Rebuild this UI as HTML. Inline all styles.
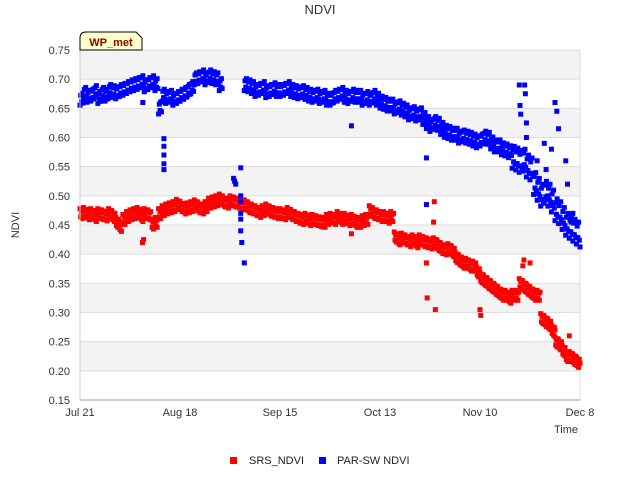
<!DOCTYPE html>
<html><head><meta charset="utf-8">
<style>
body{margin:0;background:#fff;font-family:"Liberation Sans",sans-serif;}
svg text{font-family:"Liberation Sans",sans-serif;}
</style></head>
<body>
<svg id="chart" width="640" height="480" viewBox="0 0 640 480">
<text x="320" y="14" text-anchor="middle" font-size="13" fill="#333">NDVI</text>
<g id="bands"></g>
<g id="grid"></g>
<g id="yticks"></g>
<g id="xticks"></g>
<g id="marks"></g>
<line x1="80" y1="400" x2="580" y2="400" stroke="#999"/>
<line x1="80" y1="50" x2="80" y2="400" stroke="#ccc"/>
<text x="19" y="225" transform="rotate(-90 19 225)" text-anchor="middle" font-size="11" fill="#333">NDVI</text>
<text x="578" y="433" text-anchor="end" font-size="11" fill="#333">Time</text>
<g>
<path d="M80,50 L80,38 Q80,32 86,32 L136,32 L142,38 L142,50 Z" fill="#ffffc8" stroke="#000"/>
<text x="111" y="46" text-anchor="middle" font-size="11" font-weight="bold" fill="#8b0000">WP_met</text>
</g>
<g>
<g><rect x="230" y="457" width="7" height="7" fill="#f00"/><text x="249" y="464" font-size="11" fill="#222">SRS_NDVI</text></g>
<g><rect x="319" y="457" width="7" height="7" fill="#00f"/><text x="337" y="464" font-size="11" fill="#222">PAR-SW NDVI</text></g>
</g>
</svg>
<script>
const yTicks=[0.15,0.20,0.25,0.30,0.35,0.40,0.45,0.50,0.55,0.60,0.65,0.70,0.75];
const xTickLabels=["Jul 21","Aug 18","Sep 15","Oct 13","Nov 10","Dec 8"];
const xTickDays=[0,28,56,84,112,140];
// daily values, day 0 = Jul 21
const srsDaily=[0.47,0.472,0.468,0.47,0.465,0.47,0.468,0.466,0.47,0.465,0.455,0.448,0.46,0.465,0.468,0.47,0.472,0.465,0.47,0.468,0.452,0.455,0.47,0.475,0.478,0.48,0.482,0.486,0.482,0.478,0.48,0.482,0.485,0.48,0.478,0.482,0.488,0.49,0.492,0.495,0.49,0.488,0.492,0.49,0.488,0.485,0.485,0.48,0.478,0.475,0.472,0.475,0.478,0.474,0.472,0.47,0.47,0.468,0.472,0.468,0.465,0.462,0.46,0.462,0.458,0.46,0.458,0.456,0.455,0.46,0.462,0.46,0.465,0.46,0.462,0.458,0.46,0.455,0.455,0.458,0.46,0.475,0.47,0.468,0.465,0.465,0.462,0.465,0.43,0.425,0.428,0.425,0.422,0.425,0.42,0.425,0.422,0.42,0.418,0.42,0.415,0.41,0.408,0.41,0.405,0.395,0.39,0.385,0.385,0.38,0.38,0.37,0.36,0.355,0.35,0.345,0.34,0.335,0.33,0.33,0.325,0.33,0.33,0.35,0.345,0.34,0.335,0.33,0.33,0.29,0.285,0.28,0.27,0.25,0.245,0.235,0.225,0.225,0.22,0.215,0.205,0.195];
const parDaily=[0.665,0.675,0.67,0.672,0.678,0.668,0.675,0.672,0.68,0.678,0.676,0.68,0.682,0.685,0.688,0.69,0.692,0.695,0.688,0.692,0.695,0.69,0.65,0.672,0.668,0.67,0.665,0.668,0.672,0.675,0.68,0.685,0.7,0.702,0.705,0.7,0.705,0.702,0.7,0.69,null,null,null,null,null,null,0.69,0.688,0.685,0.68,0.682,0.685,0.678,0.68,0.683,0.68,0.68,0.682,0.685,0.68,0.678,0.676,0.678,0.675,0.672,0.67,0.672,0.668,0.67,0.665,0.665,0.67,0.672,0.675,0.67,0.668,0.672,0.67,0.67,0.665,0.668,0.665,0.67,0.665,0.66,0.658,0.655,0.655,0.65,0.652,0.648,0.645,0.64,0.642,0.638,0.64,0.632,0.625,0.62,0.625,0.622,0.615,0.61,0.608,0.605,0.605,0.6,0.602,0.6,0.598,0.595,0.592,0.595,0.6,0.598,0.59,0.585,0.585,0.58,0.578,0.575,0.565,0.562,0.558,0.56,0.55,0.545,0.52,0.51,0.5,0.505,0.5,0.49,0.475,0.47,0.46,0.45,0.445,0.44,0.435,0.43];
const srsOutDays=[17.5,17.8,45,76,97,97.2,99,99.2,99.5,112,112.2,124,124.3,126,133,137];
const srsOutVals=[0.42,0.425,0.49,0.435,0.385,0.325,0.455,0.49,0.305,0.305,0.295,0.38,0.39,0.385,0.27,0.26];
const parOutDays=[17.6,23.5,23.5,23.5,23.5,23.5,43,43.3,43.6,45,45,45,45,45,45,45.3,46,76,97,97,123,123.2,123.4,124.5,124.7,125,125,128,128.5,130,130.5,131,132,133,133.5,134,136,136.5,137.5,138];
const parOutVals=[0.66,0.598,0.585,0.57,0.555,0.545,0.53,0.525,0.52,0.548,0.5,0.49,0.47,0.46,0.44,0.42,0.385,0.62,0.565,0.485,0.69,0.655,0.64,0.69,0.675,0.625,0.6,0.56,0.525,0.59,0.545,0.5,0.58,0.66,0.645,0.615,0.56,0.52,0.455,0.47];

const X0=80,X1=580,Y0=400,Y1=50,D=140,VMIN=0.15,VMAX=0.75;
const xs=d=>X0+d*(X1-X0)/D;
const ys=v=>Y0-(v-VMIN)*(Y0-Y1)/(VMAX-VMIN);
const NS="http://www.w3.org/2000/svg";
function mk(tag,attrs,parent){const e=document.createElementNS(NS,tag);for(const k in attrs)e.setAttribute(k,attrs[k]);parent.appendChild(e);return e;}
const bands=document.getElementById('bands'),grid=document.getElementById('grid'),yt=document.getElementById('yticks'),xt=document.getElementById('xticks'),marks=document.getElementById('marks');
for(let i=0;i<yTicks.length-1;i++){
  if((yTicks.length-2-i)%2===0){const r=mk('rect',{x:X0,y:ys(yTicks[i+1]),width:X1-X0,height:ys(yTicks[i])-ys(yTicks[i+1]),fill:'#f3f3f3'},bands);
  
  }
}
yTicks.forEach(v=>{
  const l=mk('line',{x1:X0,x2:X1,y1:ys(v),y2:ys(v),stroke:'#ddd'},grid);
  
  
  const t=mk('text',{x:X0-10,y:ys(v)+4,'text-anchor':'end','font-size':'11',fill:'#333'},yt);
  
  
  t.textContent=v.toFixed(2);
});
mk('line',{x1:X1,x2:X1,y1:Y1,y2:Y0,stroke:'#ddd'},grid);
xTickDays.forEach((d,i)=>{
  const t=mk('text',{x:xs(d),y:416,'text-anchor':'middle','font-size':'11',fill:'#333'},xt);
  
  
  t.textContent=xTickLabels[i];
});
function pt(d,v,c,name){
  const r=mk('rect',{x:xs(d)-2.5,y:ys(v)-2.5,width:5,height:5,fill:c},marks);
  
  
}
const offs=[0,0.2,0.4,0.6,0.8],jit=[0.008,-0.006,0.003,-0.009,0.005];
srsDaily.forEach((v,d)=>{if(v==null)return;offs.forEach((o,k)=>{if(d+o<=D)pt(d+o,v+jit[k],'#f00','srs-point');});});
parDaily.forEach((v,d)=>{if(v==null)return;const s=d>120?2.2:1.2;offs.forEach((o,k)=>{if(d+o<=D)pt(d+o,v-jit[k]*s,'#00f','par-point');});});
srsOutDays.forEach((d,i)=>pt(d,srsOutVals[i],'#f00','srs-outlier'));
parOutDays.forEach((d,i)=>pt(d,parOutVals[i],'#00f','par-outlier'));
</script>
</body></html>
